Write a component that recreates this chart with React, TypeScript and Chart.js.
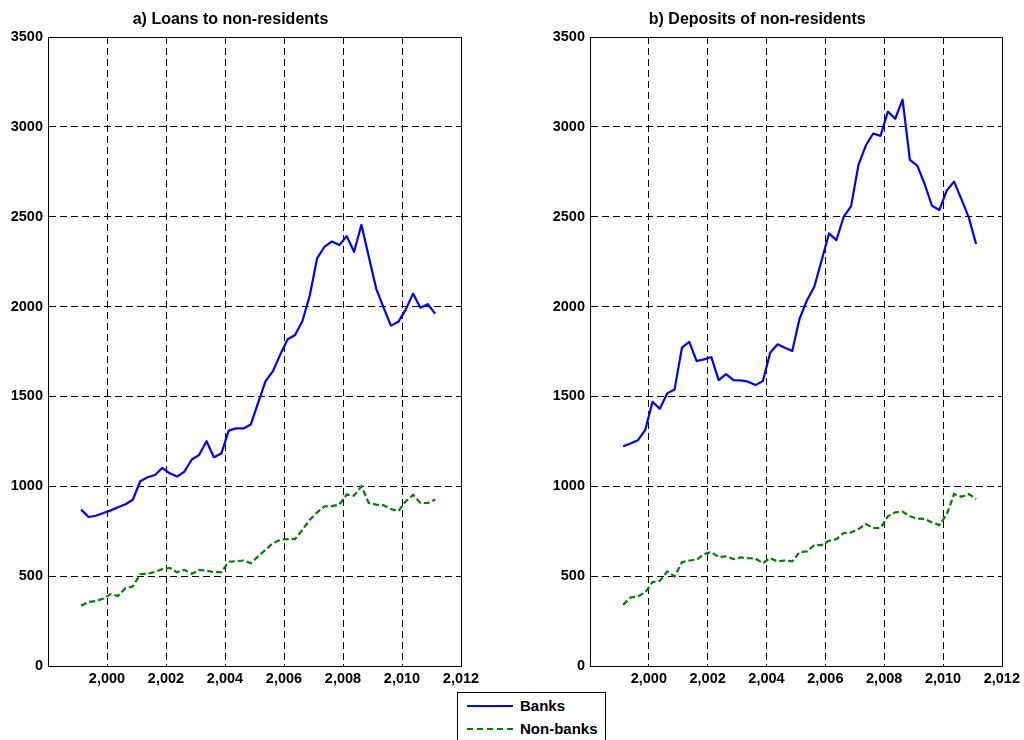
import React, { useEffect, useRef } from 'react';
import { Chart, registerables } from 'chart.js';

Chart.register(...registerables);

const quarters = [
  1999.125, 1999.375, 1999.625, 1999.875,
  2000.125, 2000.375, 2000.625, 2000.875,
  2001.125, 2001.375, 2001.625, 2001.875,
  2002.125, 2002.375, 2002.625, 2002.875,
  2003.125, 2003.375, 2003.625, 2003.875,
  2004.125, 2004.375, 2004.625, 2004.875,
  2005.125, 2005.375, 2005.625, 2005.875,
  2006.125, 2006.375, 2006.625, 2006.875,
  2007.125, 2007.375, 2007.625, 2007.875,
  2008.125, 2008.375, 2008.625, 2008.875,
  2009.125, 2009.375, 2009.625, 2009.875,
  2010.125, 2010.375, 2010.625, 2010.875,
  2011.125,
];

const loansBanks = [
  870, 829, 836, 851, 866, 883, 900, 925,
  1028, 1050, 1063, 1102, 1072, 1054, 1082, 1149,
  1175, 1251, 1162, 1182, 1310, 1322, 1322, 1344,
  1465, 1585, 1641, 1734, 1818, 1842, 1920, 2063,
  2270, 2333, 2362, 2342, 2392, 2305, 2455, 2277,
  2100, 1994, 1894, 1915, 1983, 2072, 1994, 2013,
  1961,
];

const loansNonBanks = [
  335, 357, 361, 375, 400, 390, 433, 442,
  511, 513, 524, 539, 546, 522, 535, 513,
  535, 530, 522, 522, 580, 582, 587, 572,
  610, 647, 684, 703, 706, 706, 758, 814,
  855, 888, 890, 898, 954, 948, 1000, 907,
  898, 894, 874, 861, 916, 952, 907, 907,
  926,
];

const depositsBanks = [
  1223, 1238, 1256, 1312, 1470, 1431, 1517, 1539,
  1771, 1803, 1697, 1706, 1719, 1591, 1624, 1591,
  1589, 1582, 1563, 1585, 1743, 1790, 1771, 1753,
  1933, 2035, 2110, 2258, 2407, 2370, 2500, 2559,
  2788, 2896, 2963, 2950, 3085, 3045, 3151, 2816,
  2784, 2682, 2561, 2537, 2645, 2695, 2598, 2496,
  2348,
];

const depositsNonBanks = [
  340, 381, 387, 409, 467, 474, 526, 498,
  578, 587, 591, 623, 634, 606, 610, 595,
  604, 600, 598, 572, 600, 582, 587, 582,
  634, 638, 673, 673, 697, 706, 740, 743,
  762, 790, 768, 768, 833, 855, 859, 833,
  820, 818, 799, 784, 842, 957, 941, 957,
  929,
];

const xTickValues = [1998, 2000, 2002, 2004, 2006, 2008, 2010, 2012];
const xTickLabels = ['', '2,000', '2,002', '2,004', '2,006', '2,008', '2,010', '2,012'];
const yTickValues = [0, 500, 1000, 1500, 2000, 2500, 3000, 3500];
const yTickLabels = ['0', '500', '1000', '1500', '2000', '2500', '3000', '3500'];

const titles = ['a) Loans to non-residents', 'b) Deposits of non-residents'];
const seriesNames = ['Banks', 'Non-banks'];

const FONT = '"Liberation Sans", Arial, Helvetica, sans-serif';
const BLUE = '#0000ff';
const GREEN = '#008000';

const boxPlugin = {
  id: 'plotBox',
  afterDraw(chart: any) {
    const { ctx, chartArea } = chart;
    const l = Math.round(chartArea.left) + 0.5;
    const t = Math.round(chartArea.top) + 0.5;
    const r = Math.round(chartArea.right) + 0.5;
    const b = Math.round(chartArea.bottom) + 0.5;
    ctx.save();
    ctx.setLineDash([]);
    ctx.strokeStyle = '#000';
    ctx.lineWidth = 1;
    ctx.strokeRect(l, t, r - l, b - t);
    ctx.restore();
  },
};

type PanelProps = {
  title: string;
  banks: number[];
  nonBanks: number[];
  left: number;
  yAxisWidth: number;
  padRight: number;
};

function Panel({ title, banks, nonBanks, left, yAxisWidth, padRight }: PanelProps) {
  const ref = useRef<HTMLCanvasElement | null>(null);

  useEffect(() => {
    if (!ref.current) return;
    const chart = new Chart(ref.current, {
      type: 'line',
      data: {
        datasets: [
          {
            label: seriesNames[0],
            data: quarters.map((x, i) => ({ x, y: banks[i] })),
            borderColor: BLUE,
            backgroundColor: BLUE,
            borderWidth: 2.2,
            pointRadius: 0,
            tension: 0,
            fill: false,
            borderJoinStyle: 'round',
          },
          {
            label: seriesNames[1],
            data: quarters.map((x, i) => ({ x, y: nonBanks[i] })),
            borderColor: GREEN,
            backgroundColor: GREEN,
            borderWidth: 2.2,
            borderDash: [6, 3],
            pointRadius: 0,
            tension: 0,
            fill: false,
          },
        ],
      },
      options: {
        responsive: false,
        maintainAspectRatio: false,
        animation: false,
        layout: { padding: { left: 0, right: padRight, top: 0, bottom: 4 } },
        plugins: {
          legend: { display: false },
          tooltip: { enabled: false },
          title: {
            display: true,
            text: title,
            color: '#000',
            font: { family: FONT, size: 16, weight: 'bold' },
            padding: { top: 10.4, bottom: 7.4 },
          },
        },
        scales: {
          x: {
            type: 'linear',
            min: 1998,
            max: 2012,
            afterBuildTicks: (s: any) => {
              s.ticks = xTickValues.map((v) => ({ value: v }));
            },
            afterFit: (s: any) => {
              s.height = 30;
            },
            ticks: {
              autoSkip: false,
              maxRotation: 0,
              padding: 4,
              color: '#000',
              font: { family: FONT, size: 14.5, weight: 'bold' },
              callback: (v: any) => {
                const i = xTickValues.indexOf(Number(v));
                return i >= 0 ? xTickLabels[i] : '';
              },
            },
            grid: {
              drawTicks: false,
              lineWidth: 1,
              color: (c: any) =>
                c.tick && (c.tick.value === 1998 || c.tick.value === 2012) ? 'rgba(0,0,0,0)' : '#000',
            },
            border: { display: true, color: '#000', width: 1, dash: [7, 4] },
          },
          y: {
            type: 'linear',
            min: 0,
            max: 3500,
            afterBuildTicks: (s: any) => {
              s.ticks = yTickValues.map((v) => ({ value: v }));
            },
            afterFit: (s: any) => {
              s.width = yAxisWidth;
            },
            ticks: {
              autoSkip: false,
              padding: 5,
              color: '#000',
              font: { family: FONT, size: 14.5, weight: 'bold' },
              callback: (v: any) => {
                const i = yTickValues.indexOf(Number(v));
                return i >= 0 ? yTickLabels[i] : '';
              },
            },
            grid: {
              drawTicks: false,
              lineWidth: 1,
              color: (c: any) =>
                c.tick && (c.tick.value === 0 || c.tick.value === 3500) ? 'rgba(0,0,0,0)' : '#000',
            },
            border: { display: true, color: '#000', width: 1, dash: [7, 4] },
          },
        },
      },
      plugins: [boxPlugin],
    } as any);
    return () => chart.destroy();
  }, [title, banks, nonBanks, yAxisWidth, padRight]);

  return (
    <canvas
      ref={ref}
      width={512}
      height={700}
      style={{ position: 'absolute', left, top: 0, width: 512, height: 700, display: 'block' }}
    />
  );
}

function Legend() {
  const row = (name: string, color: string, dashed: boolean, top: number) => (
    <div style={{ position: 'absolute', left: 0, top, height: 20, width: 147 }}>
      <div
        style={{
          position: 'absolute',
          left: 9,
          top: 9,
          width: 46,
          height: 0,
          borderTop: `2.2px ${dashed ? 'dashed' : 'solid'} ${color}`,
        }}
      />
      <div
        style={{
          position: 'absolute',
          left: 62,
          top: 0,
          height: 20,
          lineHeight: '20px',
          fontFamily: FONT,
          fontWeight: 'bold',
          fontSize: 15,
          color: '#000',
          whiteSpace: 'nowrap',
        }}
      >
        {name}
      </div>
    </div>
  );
  return (
    <div
      style={{
        position: 'absolute',
        left: 457,
        top: 692,
        width: 147,
        height: 60,
        border: '1px solid #000',
        background: '#fff',
      }}
    >
      {row(seriesNames[0], BLUE, false, 3)}
      {row(seriesNames[1], GREEN, true, 26)}
    </div>
  );
}

export default function App() {
  return (
    <div
      style={{
        position: 'absolute',
        left: 0,
        top: 0,
        width: 1024,
        height: 740,
        overflow: 'hidden',
        background: '#fff',
      }}
    >
      <Panel title={titles[0]} banks={loansBanks} nonBanks={loansNonBanks} left={0} yAxisWidth={48} padRight={51} />
      <Panel title={titles[1]} banks={depositsBanks} nonBanks={depositsNonBanks} left={512} yAxisWidth={78} padRight={21.5} />
      <Legend />
    </div>
  );
}
